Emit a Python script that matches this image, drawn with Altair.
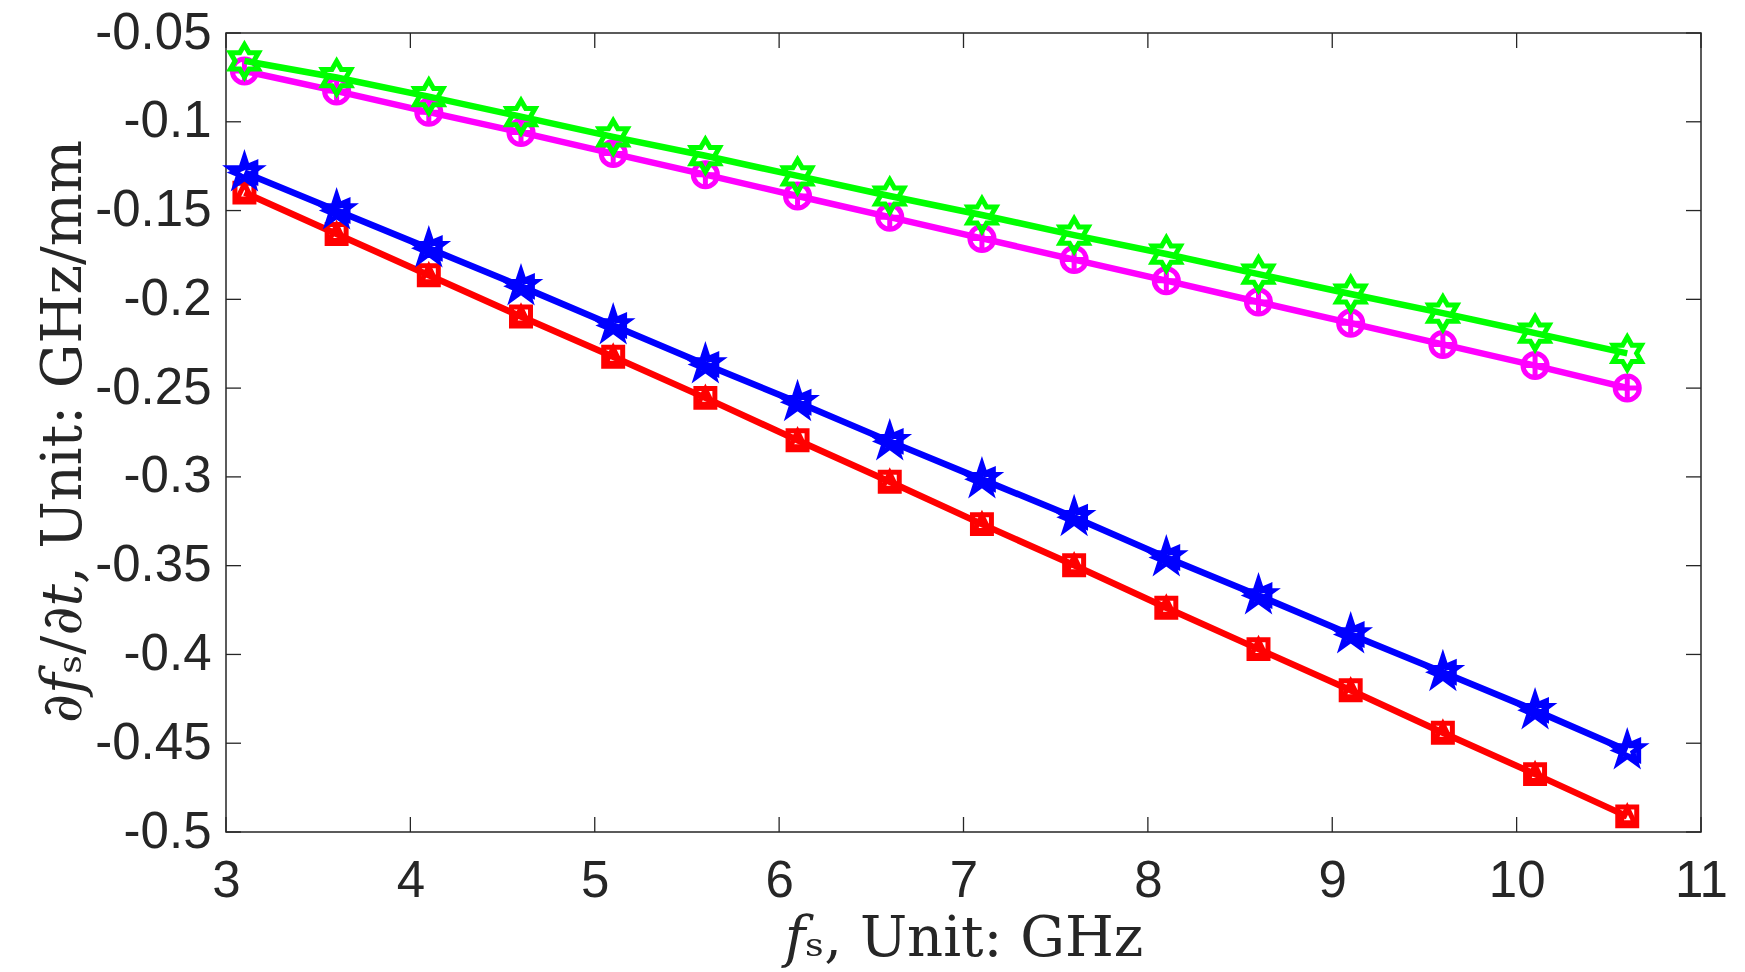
import altair as alt
import pandas as pd

# ---- data ----
fs = [3.1, 3.6, 4.1, 4.6, 5.1, 5.6, 6.1, 6.6, 7.1, 7.6, 8.1, 8.6, 9.1, 9.6, 10.1, 10.6]
green = [-0.0657, -0.0751, -0.0858, -0.0971, -0.1085, -0.1191, -0.1305, -0.1418,
         -0.1525, -0.1638, -0.1745, -0.1858, -0.1970, -0.2078, -0.2190, -0.2304]
magenta = [-0.0714, -0.0827, -0.0946, -0.1060, -0.1179, -0.1298, -0.1418, -0.1537,
           -0.1657, -0.1776, -0.1895, -0.2015, -0.2134, -0.2254, -0.2373, -0.2499]
blue = [-0.1286, -0.1500, -0.1713, -0.1927, -0.2147, -0.2367, -0.2580, -0.2800,
        -0.3014, -0.3227, -0.3454, -0.3668, -0.3888, -0.4100, -0.4315, -0.4541]
red = [-0.1399, -0.1632, -0.1864, -0.2097, -0.2323, -0.2555, -0.2794, -0.3027,
       -0.3266, -0.3498, -0.3737, -0.3970, -0.4202, -0.4441, -0.4674, -0.4912]

x_ticks = [3, 4, 5, 6, 7, 8, 9, 10, 11]
y_ticks = [-0.5, -0.45, -0.4, -0.35, -0.3, -0.25, -0.2, -0.15, -0.1, -0.05]

X_DOMAIN = [3, 11]
Y_DOMAIN = [-0.5, -0.05]
W, H = 1475, 799
INK = "#262626"
LW = 6.5
MW = 5

HEXAGRAM = ("M0,-1L0.289,-0.5L0.866,-0.5L0.577,0L0.866,0.5L0.289,0.5L0,1"
            "L-0.289,0.5L-0.866,0.5L-0.577,0L-0.866,-0.5L-0.289,-0.5Z")
PENTAGRAM = ("M0,-1L0.225,-0.309L0.951,-0.309L0.363,0.118L0.588,0.809L0,0.382"
             "L-0.588,0.809L-0.363,0.118L-0.951,-0.309L-0.225,-0.309Z")
TRI_LEFT = "M-1,0L1,-0.85L1,0.85Z"
TRI_UP = "M0,-1L0.85,0.75L-0.85,0.75Z"
PLUS = "M-1,0L1,0M0,-1L0,1"

xs = alt.Scale(domain=X_DOMAIN, nice=False, zero=False)
ys = alt.Scale(domain=Y_DOMAIN, nice=False, zero=False)

X_TITLE = "\U0001D453\u209B, Unit: GHz"
Y_TITLE = "\u2202\U0001D453\u209B/\u2202\U0001D461, Unit: GHz/mm"

x_axis = alt.Axis(values=x_ticks, title=X_TITLE, labelFlush=False, labelOverlap=False,
                  labelPadding=24, titleX=W / 2, titleY=123, titleAlign="center",
                  titleBaseline="alphabetic", format="~g")
y_axis = alt.Axis(values=y_ticks, title=Y_TITLE, labelOverlap=False, labelPadding=15,
                  format="~g",
                  labelExpr="replace(datum.label, '\u2212', '-')",
                  titleX=-146, titleY=398, titleAlign="center", titleBaseline="alphabetic",
                  titleAngle=270)


def series_layers(vals, color, shapes):
    df = pd.DataFrame({"x": fs, "y": vals})
    base = alt.Chart(df).encode(
        x=alt.X("x:Q", scale=xs, axis=x_axis),
        y=alt.Y("y:Q", scale=ys, axis=y_axis),
    )
    out = [base.mark_line(color=color, strokeWidth=LW, clip=False)]
    for shp, size in shapes:
        out.append(base.mark_point(shape=shp, size=size, filled=False, color=color,
                                   strokeWidth=MW, opacity=1, strokeJoin="miter"))
    return out


layers = []
layers += series_layers(red, "#FF0000", [("square", 360), (TRI_UP, 300)])
layers += series_layers(blue, "#0000FF", [(PENTAGRAM, 950), (TRI_LEFT, 520)])
layers += series_layers(magenta, "#FF00FF", [("circle", 580), (PLUS, 580)])
layers += series_layers(green, "#00FF00", [(HEXAGRAM, 1050)])

# inward ticks on all four sides (MATLAB style)
TL = 15
xt = pd.DataFrame({"x": x_ticks})
yt = pd.DataFrame({"y": y_ticks})
tick_x_bottom = alt.Chart(xt).mark_rule(color=INK, strokeWidth=1.3).encode(
    x=alt.X("x:Q", scale=xs, axis=x_axis), y=alt.value(H - TL), y2=alt.value(H))
tick_x_top = alt.Chart(xt).mark_rule(color=INK, strokeWidth=1.3).encode(
    x=alt.X("x:Q", scale=xs, axis=x_axis), y=alt.value(0), y2=alt.value(TL))
tick_y_left = alt.Chart(yt).mark_rule(color=INK, strokeWidth=1.3).encode(
    y=alt.Y("y:Q", scale=ys, axis=y_axis), x=alt.value(0), x2=alt.value(TL))
tick_y_right = alt.Chart(yt).mark_rule(color=INK, strokeWidth=1.3).encode(
    y=alt.Y("y:Q", scale=ys, axis=y_axis), x=alt.value(W - TL), x2=alt.value(W))

chart = alt.layer(tick_x_bottom, tick_x_top, tick_y_left, tick_y_right, *layers).properties(
    width=W, height=H,
    autosize=alt.AutoSizeParams(type="none"),
    padding={"left": 218, "top": 25, "right": 30, "bottom": 138},
).configure_view(
    stroke=INK, strokeWidth=1.5
).configure_axis(
    grid=False, ticks=False, tickSize=0, domain=False,
    labelFont="Liberation Sans", labelFontSize=51, labelColor=INK,
    titleFont="DejaVu Serif", titleFontSize=56, titleFontWeight="normal", titleColor=INK,
).configure_axisY(labelBaseline="middle", labelAlign="right")

chart.save("out.html", embed_options={"renderer": "svg", "actions": False})
